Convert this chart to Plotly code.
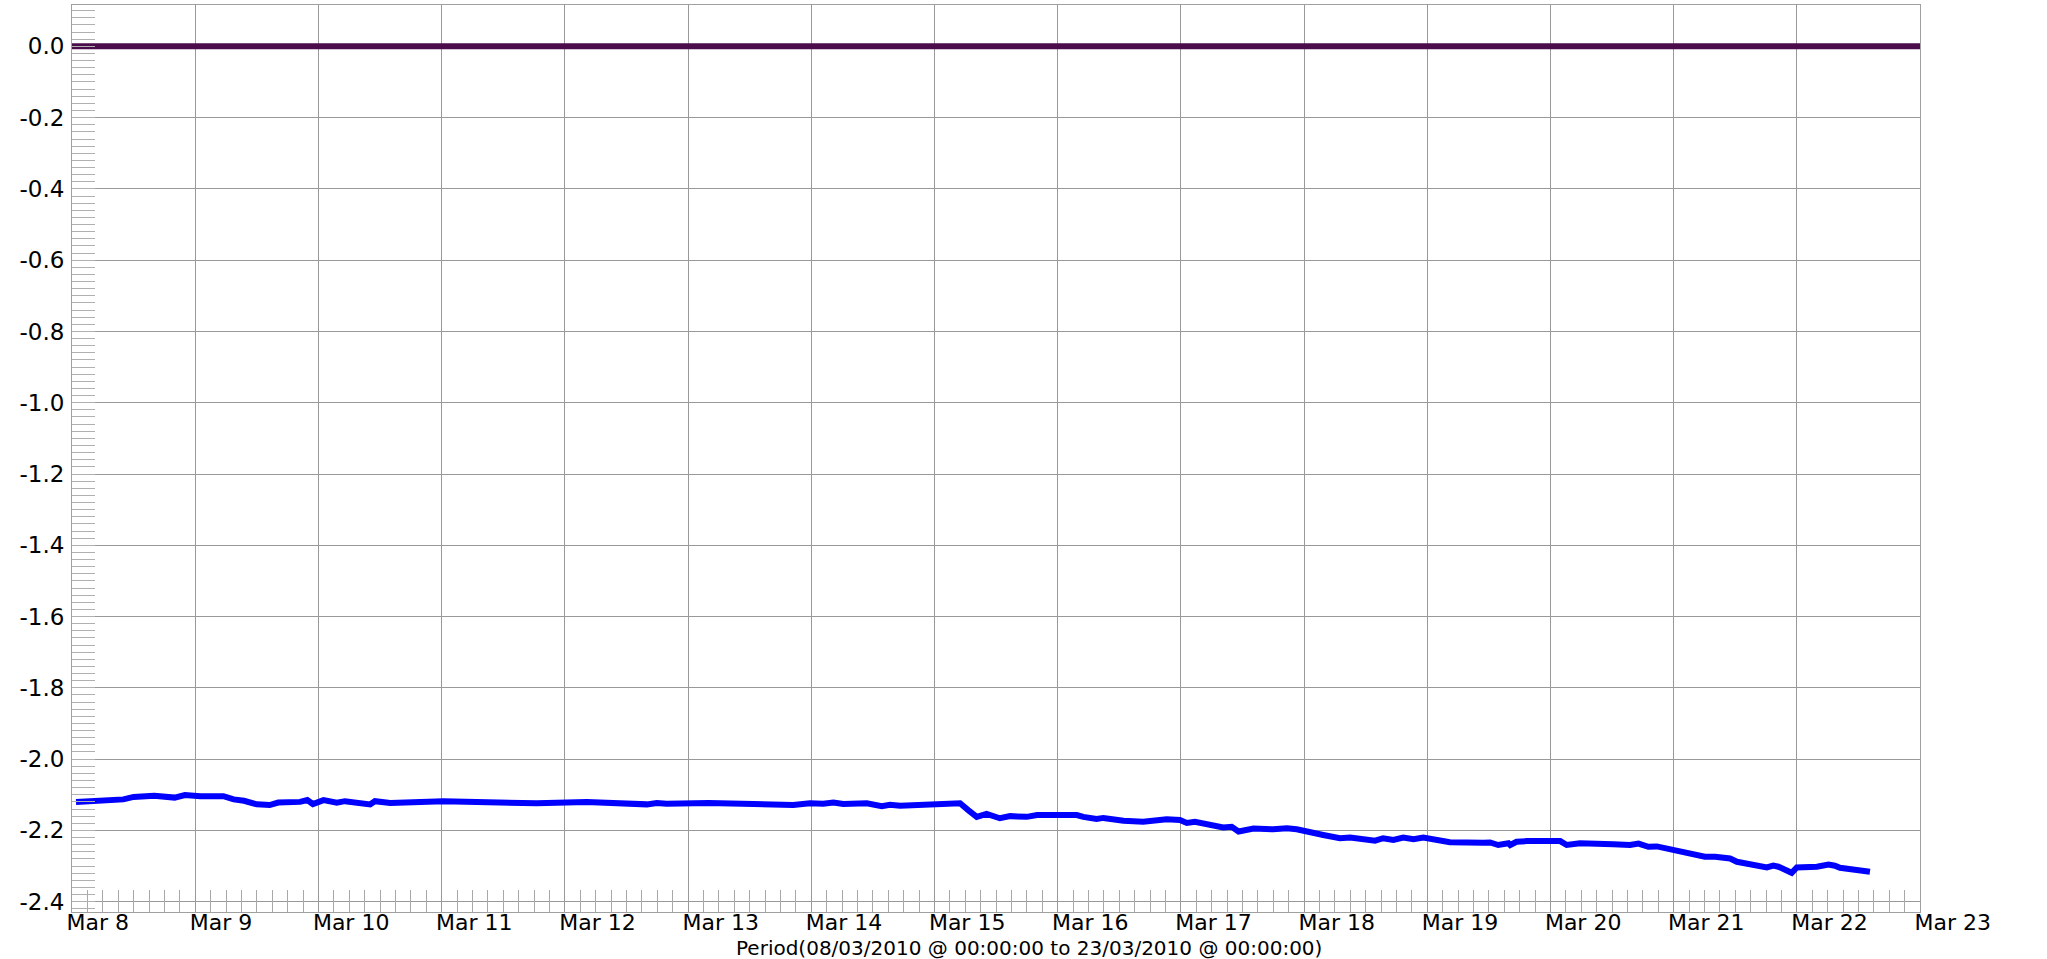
import plotly.graph_objects as go

# Zero reference series (dark purple)
ref_times = ["2010-03-08 00:00", "2010-03-23 00:00"]
ref_values = [0.0, 0.0]

# Measured series (blue)
meas_times = [
    "2010-03-08 00:47", "2010-03-08 04:09", "2010-03-08 10:00", "2010-03-08 12:00",
    "2010-03-08 16:00", "2010-03-08 20:00", "2010-03-08 22:00", "2010-03-09 01:00",
    "2010-03-09 05:30", "2010-03-09 07:30", "2010-03-09 09:30", "2010-03-09 12:00",
    "2010-03-09 14:30", "2010-03-09 16:10", "2010-03-09 20:25", "2010-03-09 21:50",
    "2010-03-09 22:55", "2010-03-10 01:00", "2010-03-10 03:35", "2010-03-10 05:10",
    "2010-03-10 08:45", "2010-03-10 10:05", "2010-03-10 11:00", "2010-03-10 14:00",
    "2010-03-11 00:20", "2010-03-11 10:05", "2010-03-11 15:15", "2010-03-11 18:30",
    "2010-03-12 04:15", "2010-03-12 10:45", "2010-03-12 14:00", "2010-03-12 16:00",
    "2010-03-12 17:55", "2010-03-12 19:50", "2010-03-13 04:00", "2010-03-13 06:50",
    "2010-03-13 08:50", "2010-03-13 12:45", "2010-03-13 20:30", "2010-03-13 23:45",
    "2010-03-14 02:20", "2010-03-14 04:20", "2010-03-14 06:15", "2010-03-14 10:50",
    "2010-03-14 13:45", "2010-03-14 15:20", "2010-03-14 17:20", "2010-03-14 23:10",
    "2010-03-15 05:00", "2010-03-15 06:35", "2010-03-15 08:15", "2010-03-15 10:10",
    "2010-03-15 12:45", "2010-03-15 14:45", "2010-03-15 18:00", "2010-03-15 20:00",
    "2010-03-16 01:45", "2010-03-16 03:45", "2010-03-16 05:00", "2010-03-16 07:35",
    "2010-03-16 08:55", "2010-03-16 12:50", "2010-03-16 16:40", "2010-03-16 21:15",
    "2010-03-16 23:50", "2010-03-17 01:10", "2010-03-17 02:45", "2010-03-17 06:20",
    "2010-03-17 08:15", "2010-03-17 09:55", "2010-03-17 11:15", "2010-03-17 14:10",
    "2010-03-17 18:00", "2010-03-17 20:40", "2010-03-17 22:35", "2010-03-18 03:45",
    "2010-03-18 07:00", "2010-03-18 09:00", "2010-03-18 11:35", "2010-03-18 13:50",
    "2010-03-18 15:25", "2010-03-18 17:25", "2010-03-18 19:20", "2010-03-18 21:20",
    "2010-03-18 23:15", "2010-03-19 01:50", "2010-03-19 04:25", "2010-03-19 10:55",
    "2010-03-19 12:15", "2010-03-19 13:50", "2010-03-19 15:50", "2010-03-19 16:10",
    "2010-03-19 17:25", "2010-03-19 19:25", "2010-03-19 23:55", "2010-03-20 01:55",
    "2010-03-20 03:10", "2010-03-20 05:45", "2010-03-20 12:15", "2010-03-20 15:30",
    "2010-03-20 17:10", "2010-03-20 19:05", "2010-03-20 20:45", "2010-03-20 23:55",
    "2010-03-21 03:10", "2010-03-21 04:30", "2010-03-21 06:05", "2010-03-21 08:05",
    "2010-03-21 09:40", "2010-03-21 11:00", "2010-03-21 12:20", "2010-03-21 14:55",
    "2010-03-21 16:50", "2010-03-21 18:10", "2010-03-21 19:25", "2010-03-21 20:25",
    "2010-03-21 23:00", "2010-03-22 00:00", "2010-03-22 03:55", "2010-03-22 06:10",
    "2010-03-22 07:25", "2010-03-22 08:25", "2010-03-22 11:40", "2010-03-22 14:15",
]
meas_values = [
    -2.120, -2.118, -2.113, -2.106,
    -2.103, -2.108, -2.101, -2.104,
    -2.104, -2.113, -2.117, -2.127,
    -2.129, -2.122, -2.120, -2.115,
    -2.126, -2.115, -2.122, -2.118,
    -2.122, -2.127, -2.118, -2.123,
    -2.118, -2.123, -2.123, -2.124,
    -2.120, -2.123, -2.122, -2.127,
    -2.123, -2.125, -2.123, -2.125,
    -2.123, -2.126, -2.129, -2.124,
    -2.125, -2.122, -2.126, -2.124,
    -2.132, -2.128, -2.131, -2.126,
    -2.124, -2.143, -2.162, -2.154,
    -2.166, -2.160, -2.162, -2.157,
    -2.154, -2.157, -2.162, -2.168,
    -2.165, -2.173, -2.176, -2.169,
    -2.171, -2.179, -2.176, -2.188,
    -2.192, -2.190, -2.203, -2.195,
    -2.197, -2.194, -2.197, -2.213,
    -2.222, -2.220, -2.224, -2.229,
    -2.222, -2.227, -2.220, -2.225,
    -2.220, -2.226, -2.233, -2.235,
    -2.234, -2.241, -2.236, -2.241,
    -2.232, -2.230, -2.232, -2.230,
    -2.241, -2.236, -2.239, -2.241,
    -2.237, -2.246, -2.245, -2.255,
    -2.265, -2.267, -2.274, -2.274,
    -2.279, -2.279, -2.288, -2.294,
    -2.302, -2.304, -2.299, -2.302,
    -2.319, -2.304, -2.302, -2.296,
    -2.299, -2.305, -2.311, -2.316,
]

x_range = ["2010-03-08 00:00", "2010-03-23 00:00"]
y_range = [-2.429, 0.116]
y_ticks = [0.0, -0.2, -0.4, -0.6, -0.8, -1.0, -1.2, -1.4, -1.6, -1.8, -2.0, -2.2, -2.4]
y_ticktext = ["0.0", "-0.2", "-0.4", "-0.6", "-0.8", "-1.0", "-1.2", "-1.4",
              "-1.6", "-1.8", "-2.0", "-2.2", "-2.4"]
x_title = "Period(08/03/2010 @ 00:00:00 to 23/03/2010 @ 00:00:00)"

FONT = "DejaVu Sans"
GRID = "#999999"
FS = 22

fig = go.Figure()
fig.add_trace(go.Scatter(x=ref_times, y=ref_values, mode="lines",
                         line=dict(color="#4b0c4b", width=6), showlegend=False,
                         cliponaxis=False))
fig.add_trace(go.Scatter(x=meas_times, y=meas_values, mode="lines",
                         line=dict(color="#0000ff", width=6), showlegend=False))

fig.update_layout(
    width=2047, height=959,
    margin=dict(l=72, r=127, t=5, b=47, pad=0, autoexpand=False),
    plot_bgcolor="white", paper_bgcolor="white",
    showlegend=False,
    font=dict(family=FONT, size=FS, color="black"),
)

fig.update_xaxes(
    type="date", range=x_range, automargin=False,
    dtick=86400000, tick0="2010-03-08", tickformat="%b %-d",
    ticks="", ticklabelposition="outside right",
    ticklabelstandoff=-9, ticklabelshift=-6,
    showgrid=True, gridcolor=GRID, gridwidth=1,
    showline=True, linecolor="#a0a0a0", linewidth=1, mirror=True,
    zeroline=False,
    tickfont=dict(family=FONT, size=FS, color="black"),
    minor=dict(ticks="inside", ticklen=22, tickwidth=1, tickcolor="#a8a8a8",
               dtick=3 * 3600 * 1000, showgrid=False),
)
fig.update_yaxes(
    range=y_range, tickmode="array", tickvals=y_ticks, ticktext=y_ticktext,
    automargin=False, ticklabelstandoff=2,
    ticks="", showgrid=True, gridcolor=GRID, gridwidth=1,
    showline=True, linecolor="#a0a0a0", linewidth=1, mirror=True,
    zeroline=False,
    tickfont=dict(family=FONT, size=23, color="black"),
    minor=dict(ticks="inside", ticklen=23, tickwidth=1, tickcolor="#b0b0b0",
               tickmode="linear", tick0=0, dtick=0.02, showgrid=False),
)

fig.add_annotation(text=x_title, xref="paper", yref="paper",
                   x=0.518, y=-0.0397, xanchor="center", yanchor="middle",
                   borderpad=0,
                   showarrow=False, font=dict(family=FONT, size=20, color="black"))

fig.write_html(
    "out.html",
    config={"displayModeBar": False},
    post_script="document.body.style.margin='0';document.body.style.overflow='hidden';",
)
